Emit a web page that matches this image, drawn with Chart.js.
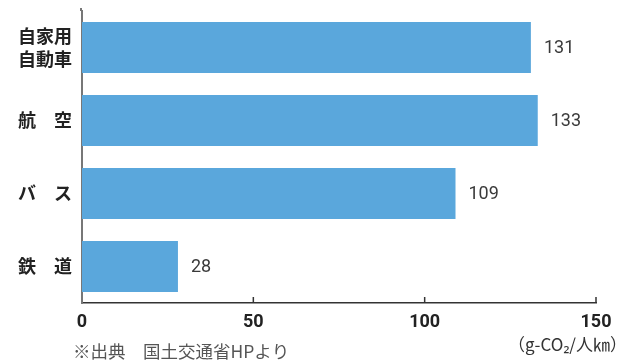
<!DOCTYPE html>
<html>
<head>
<meta charset="utf-8">
<script src="https://cdn.jsdelivr.net/npm/chart.js@4/dist/chart.umd.min.js"></script>
<style>
  html, body { margin: 0; padding: 0; background: #fff; }
  #wrap { width: 627px; height: 364px; }
</style>
</head>
<body>
<div id="wrap"><canvas id="bar-chart"></canvas></div>
<script>
const categories = [["自家用", "自動車"], "航　空", "バ　ス", "鉄　道"];
const emissions = [131, 133, 109, 28];
const xTicks = [0, 50, 100, 150];
const unitText = "（g-CO₂/人㎞）";
const sourceText = "※出典　国土交通省HPより";

const jpFont = "'Noto Sans CJK JP', 'Noto Sans', sans-serif";
const numFont = "'Liberation Sans Narrow', Roboto, 'Noto Sans', sans-serif";

// value labels, upward tick marks, unit and source notes
const extras = {
    id: "extras",
    afterDatasetsDraw(chart) {
        const ctx = chart.ctx;
        const meta = chart.getDatasetMeta(0);
        const xs = chart.scales.x;
        const area = chart.chartArea;
        ctx.save();
        ctx.fillStyle = "#3a3a3a";
        ctx.font = "18px " + numFont;
        ctx.textAlign = "left";
        ctx.textBaseline = "middle";
        meta.data.forEach(function(bar, i) {
            ctx.fillText(emissions[i], bar.x + 13, bar.y + 1);
        });

        ctx.strokeStyle = "#333";
        ctx.lineWidth = 1.5;
        xTicks.forEach(function(v) {
            if (v === 0) return;
            const px = xs.getPixelForValue(v);
            ctx.beginPath();
            ctx.moveTo(px, area.bottom);
            ctx.lineTo(px, area.bottom - 6);
            ctx.stroke();
        });

        // left axis runs a little above the first bar slot
        ctx.strokeStyle = "#777";
        ctx.lineWidth = 2;
        ctx.beginPath();
        ctx.moveTo(area.left - 1, area.top);
        ctx.lineTo(area.left - 1, area.top - 3);
        ctx.stroke();

        ctx.fillStyle = "#333";
        ctx.font = "17px " + jpFont;
        ctx.textAlign = "right";
        ctx.fillText(unitText, 627, 345);

        ctx.fillStyle = "#555";
        ctx.font = "17.5px " + jpFont;
        ctx.textAlign = "left";
        ctx.fillText(sourceText, 73, 351);
        ctx.restore();
    }
};

new Chart(document.querySelector("#bar-chart"), {
    type: "bar",
    data: {
        labels: categories,
        datasets: [{
            data: emissions,
            backgroundColor: "#5aa7dc",
            barPercentage: 0.7,
            categoryPercentage: 1,
        }, ],
    },
    options: {
        indexAxis: "y",
        responsive: true,
        maintainAspectRatio: false,
        animation: false,
        layout: { padding: { top: 11, right: 31, left: 0, bottom: 0 } },
        plugins: {
            legend: { display: false },
            tooltip: { enabled: false },
        },
        scales: {
            x: {
                min: 0,
                max: 150,
                afterBuildTicks: function(scale) {
                    scale.ticks = xTicks.map(function(v) { return { value: v }; });
                },
                afterFit: function(scale) {
                    scale.height = 61;
                    scale.paddingLeft = 0;
                    scale.paddingRight = 0;
                },
                grid: { display: false, drawTicks: false },
                border: { display: true, color: "#333", width: 1.5 },
                ticks: {
                    padding: 9,
                    color: "#222",
                    font: { family: "Roboto, 'Noto Sans', sans-serif", size: 18, weight: "bold" },
                },
            },
            y: {
                afterFit: function(scale) {
                    scale.width = 82;
                    scale.paddingTop = 0;
                    scale.paddingBottom = 0;
                },
                grid: { display: false, drawTicks: false },
                border: { display: true, color: "#777", width: 2 },
                ticks: {
                    padding: 10,
                    color: "#222",
                    font: { family: jpFont, size: 18, weight: "bold", lineHeight: 1.28 },
                },
            },
        },
    },
    plugins: [extras],
});
</script>
</body>
</html>
